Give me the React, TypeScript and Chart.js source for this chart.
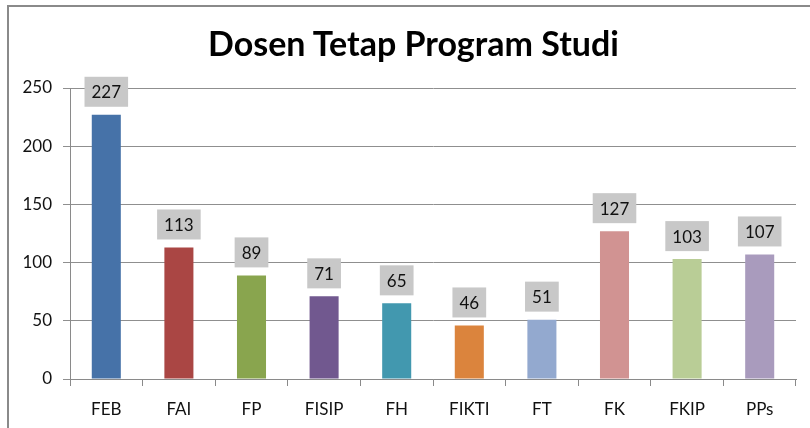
import React, { useEffect, useRef } from "react";
import { Chart, registerables } from "chart.js";

Chart.register(...registerables);

const categories = ["FEB", "FAI", "FP", "FISIP", "FH", "FIKTI", "FT", "FK", "FKIP", "PPs"];
const values = [227, 113, 89, 71, 65, 46, 51, 127, 103, 107];
const barColors = [
  "#4672a8", "#aa4644", "#89a54e", "#71588f", "#4298af",
  "#db843d", "#93a9cf", "#d19392", "#b9cd96", "#a99bbd",
];
const titleText = "Dosen Tetap Program Studi";
const yMax = 250;
const yStep = 50;

const FONT = "Lato, 'Open Sans', sans-serif";

const labelPlugin = {
  id: "valueBoxes",
  afterDatasetsDraw(chart: any) {
    const ctx = chart.ctx;
    const meta = chart.getDatasetMeta(0);
    ctx.save();
    ctx.font = `17px ${FONT}`;
    ctx.textAlign = "center";
    ctx.textBaseline = "middle";
    meta.data.forEach((bar: any, i: number) => {
      const text = String(values[i]);
      const w = ctx.measureText(text).width + 14;
      const h = 30;
      const bottom = bar.y - 8;
      ctx.fillStyle = "#c8c8c8";
      ctx.fillRect(bar.x - w / 2, bottom - h, w, h);
      ctx.fillStyle = "#111";
      ctx.fillText(text, bar.x, bottom - h / 2 + 1);
    });
    ctx.restore();
  },
};

export default function App() {
  const ref = useRef<HTMLCanvasElement>(null);
  useEffect(() => {
    if (!ref.current) return;
    const chart = new Chart(ref.current, {
      type: "bar",
      data: {
        labels: categories,
        datasets: [
          {
            data: values,
            backgroundColor: barColors,
            categoryPercentage: 1,
            barPercentage: 0.4,
          },
        ],
      },
      options: {
        animation: false,
        responsive: false,
        maintainAspectRatio: false,
        layout: { padding: { left: 0, right: 14, top: 88, bottom: 0 } },
        plugins: {
          legend: { display: false },
          tooltip: { enabled: false },
          title: { display: false },
        },
        scales: {
          x: {
            offset: true,
            afterFit(scale: any) {
              scale.height = 49;
            },
            grid: {
              display: true,
              offset: true,
              drawOnChartArea: false,
              drawTicks: true,
              tickLength: 7,
              color: "#8a8a8a",
            },
            border: { display: true, color: "#8a8a8a" },
            ticks: {
              color: "#111",
              font: { family: FONT, size: 17, lineHeight: 1.2 },
              padding: 13,
            },
          },
          y: {
            min: 0,
            max: yMax,
            afterFit(scale: any) {
              scale.width = 70;
            },
            grid: {
              display: true,
              color: "#8f8f8f",
              tickLength: 7,
              drawTicks: true,
            },
            border: { display: true, color: "#8a8a8a" },
            ticks: {
              stepSize: yStep,
              color: "#111",
              font: { family: FONT, size: 17 },
              padding: 11,
            },
          },
        },
      } as any,
      plugins: [labelPlugin],
    });
    return () => chart.destroy();
  }, []);

  return (
    <div style={{ position: "fixed", left: 0, top: 0, width: 810, height: 428, background: "#fff", overflow: "hidden" }}>
      <div
        style={{
          position: "absolute",
          left: 7,
          top: 5,
          width: 900,
          height: 500,
          borderLeft: "2px solid #8a8a8a",
          borderTop: "2px solid #8a8a8a",
        }}
      />
      <canvas ref={ref} width={810} height={428} style={{ position: "absolute", left: 0, top: 0 }} />
      <div
        style={{
          position: "absolute",
          left: 0,
          top: 23,
          width: 827,
          textAlign: "center",
          fontFamily: FONT,
          fontWeight: "bold",
          fontSize: 34,
          lineHeight: "40px",
          color: "#000",
          whiteSpace: "nowrap",
        }}
      >
        {titleText}
      </div>
    </div>
  );
}
